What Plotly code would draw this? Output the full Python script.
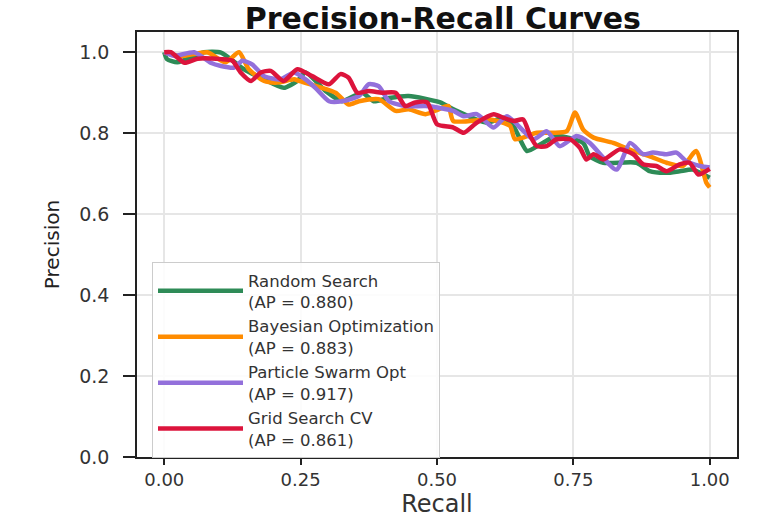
import plotly.graph_objects as go

# ---- data ----
rs_recall = [0.0, 0.005, 0.024, 0.073, 0.104, 0.146, 0.180, 0.219, 0.244, 0.259, 0.296, 0.326, 0.363, 0.384,
             0.412, 0.448, 0.506, 0.530, 0.591, 0.622, 0.640, 0.665, 0.689, 0.719, 0.768, 0.780, 0.805,
             0.866, 0.890, 0.921, 0.945, 0.969, 1.0]
rs_precision = [1.0, 0.983, 0.975, 1.0, 0.999, 0.958, 0.935, 0.912, 0.929, 0.950, 0.904, 0.879, 0.900, 0.879,
                0.887, 0.892, 0.876, 0.859, 0.826, 0.838, 0.818, 0.756, 0.772, 0.793, 0.776, 0.743, 0.727,
                0.727, 0.706, 0.702, 0.706, 0.710, 0.690]

bo_recall = [0.0, 0.03, 0.079, 0.112, 0.137, 0.155, 0.183, 0.207, 0.238, 0.247, 0.314, 0.338, 0.357, 0.393,
             0.424, 0.448, 0.479, 0.503, 0.521, 0.530, 0.598, 0.634, 0.643, 0.683, 0.713, 0.738, 0.753,
             0.768, 0.787, 0.823, 0.860, 0.890, 0.921, 0.951, 0.975, 0.994, 1.0]
bo_precision = [1.0, 0.990, 1.0, 0.975, 1.0, 0.958, 0.929, 0.925, 0.933, 0.929, 0.900, 0.871, 0.879, 0.884,
                0.855, 0.859, 0.847, 0.859, 0.867, 0.830, 0.834, 0.818, 0.785, 0.801, 0.801, 0.805, 0.851,
                0.809, 0.789, 0.776, 0.756, 0.743, 0.727, 0.719, 0.756, 0.677, 0.666]

pso_recall = [0.0, 0.018, 0.055, 0.085, 0.104, 0.128, 0.143, 0.161, 0.183, 0.213, 0.238, 0.259, 0.277, 0.302,
              0.326, 0.357, 0.375, 0.393, 0.412, 0.442, 0.479, 0.503, 0.530, 0.549, 0.573, 0.604, 0.628,
              0.677, 0.701, 0.725, 0.756, 0.780, 0.829, 0.854, 0.878, 0.896, 0.921, 0.939, 0.957, 0.982, 1.0]
pso_precision = [1.0, 0.991, 1.0, 0.974, 0.966, 0.962, 0.979, 0.970, 0.941, 0.933, 0.950, 0.933, 0.912, 0.879,
                 0.879, 0.892, 0.921, 0.916, 0.879, 0.867, 0.867, 0.863, 0.855, 0.842, 0.847, 0.814, 0.842,
                 0.785, 0.805, 0.768, 0.793, 0.776, 0.710, 0.776, 0.748, 0.752, 0.748, 0.752, 0.731, 0.719, 0.715]

gs_recall = [0.0, 0.012, 0.037, 0.061, 0.104, 0.125, 0.140, 0.159, 0.177, 0.195, 0.219, 0.244, 0.271, 0.302,
             0.323, 0.338, 0.354, 0.375, 0.399, 0.424, 0.442, 0.460, 0.482, 0.500, 0.530, 0.549, 0.573,
             0.604, 0.622, 0.640, 0.658, 0.671, 0.683, 0.701, 0.719, 0.744, 0.762, 0.774, 0.787, 0.805,
             0.835, 0.860, 0.878, 0.902, 0.921, 0.945, 0.963, 0.979, 1.0]
gs_precision = [1.0, 1.0, 0.974, 0.984, 0.983, 0.979, 0.950, 0.929, 0.950, 0.954, 0.929, 0.958, 0.941, 0.921,
                0.946, 0.937, 0.900, 0.904, 0.900, 0.900, 0.867, 0.876, 0.876, 0.822, 0.814, 0.801, 0.826,
                0.847, 0.838, 0.830, 0.834, 0.793, 0.768, 0.768, 0.785, 0.785, 0.764, 0.735, 0.748, 0.735,
                0.760, 0.748, 0.723, 0.719, 0.706, 0.723, 0.727, 0.698, 0.712]

names = ["Random Search<br>(AP = 0.880)", "Bayesian Optimization<br>(AP = 0.883)",
         "Particle Swarm Opt<br>(AP = 0.917)", "Grid Search CV<br>(AP = 0.861)"]
colors = ["#2e8b57", "#ff8c00", "#9370db", "#dc143c"]
x_ticks = [0.0, 0.25, 0.5, 0.75, 1.0]
x_tick_text = ["0.00", "0.25", "0.50", "0.75", "1.00"]
y_ticks = [0.0, 0.2, 0.4, 0.6, 0.8, 1.0]
y_tick_text = ["0.0", "0.2", "0.4", "0.6", "0.8", "1.0"]

series = [(rs_recall, rs_precision), (bo_recall, bo_precision),
          (pso_recall, pso_precision), (gs_recall, gs_precision)]

fig = go.Figure()
for (xs, ys), name, col in zip(series, names, colors):
    fig.add_trace(go.Scatter(x=xs, y=ys, mode="lines", name=name,
                             line=dict(color=col, width=4.5, shape="spline", smoothing=0.6)))

axis_common = dict(showline=True, linecolor="#222", linewidth=1.5, mirror=True,
                   showgrid=True, gridcolor="#e6e6e6", gridwidth=1.5, zeroline=False,
                   ticks="outside", tickcolor="#222", tickwidth=1.5)

fig.update_layout(
    width=757, height=518,
    margin=dict(l=137, r=20, t=32, b=61),
    paper_bgcolor="white", plot_bgcolor="white",
    title=dict(text="<b>Precision-Recall Curves</b>", x=0.585, xanchor="center",
               y=0.964, yanchor="middle", yref="container",
               font=dict(family="DejaVu Sans", size=30, color="#111")),
    xaxis=dict(range=[-0.05, 1.05], tickvals=x_ticks, ticktext=x_tick_text, ticklen=6,
               tickfont=dict(family="DejaVu Sans", size=18, color="#333"),
               title=dict(text="Recall", font=dict(family="DejaVu Sans", size=24, color="#333"), standoff=2),
               automargin=False, **axis_common),
    yaxis=dict(range=[0, 1.05], tickvals=y_ticks, ticktext=y_tick_text, ticklen=12,
               ticklabelstandoff=10,
               tickfont=dict(family="DejaVu Sans", size=19, color="#333"),
               title=dict(text="Precision", font=dict(family="DejaVu Sans", size=20, color="#222"), standoff=14),
               automargin=False, **axis_common),
    legend=dict(x=0.025, y=0.459, xanchor="left", yanchor="top",
                bgcolor="rgba(255,255,255,0.85)", bordercolor="#cccccc", borderwidth=1,
                font=dict(family="DejaVu Sans", size=16.5, color="#333"),
                itemwidth=85, valign="middle", tracegroupgap=0),
    showlegend=True,
)

fig.write_html("out.html")
